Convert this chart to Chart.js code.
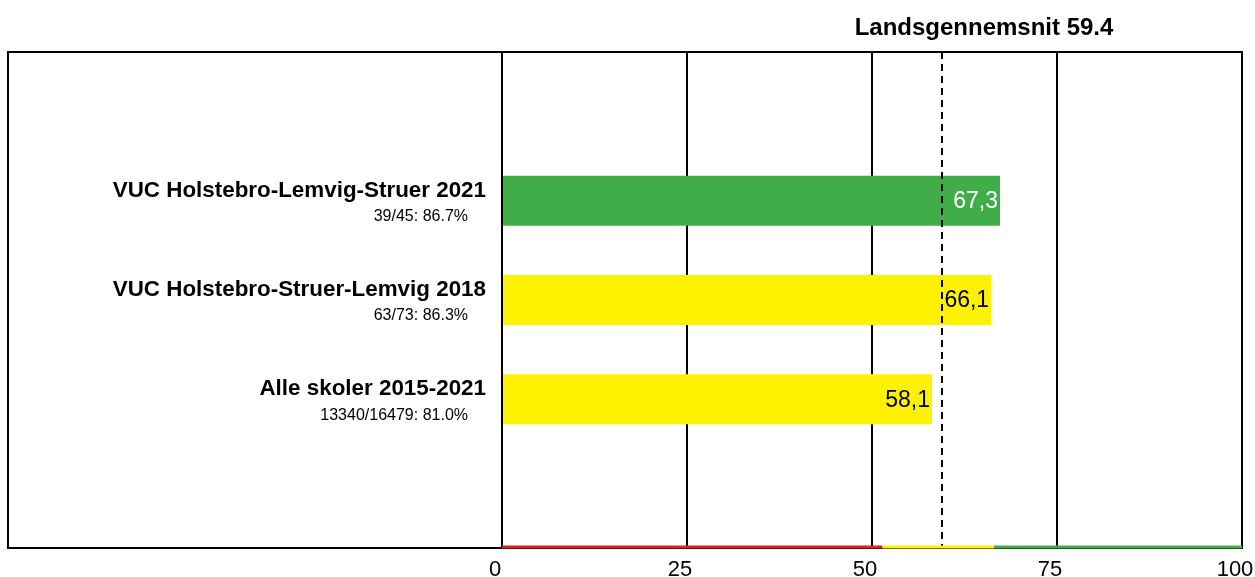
<!DOCTYPE html>
<html>
<head>
<meta charset="utf-8">
<script src="https://cdn.jsdelivr.net/npm/chart.js@4"></script>
<style>
  body { margin: 0; background: #fff; }
  #wrap { width: 1255px; height: 577px; }
</style>
</head>
<body>
<div id="wrap"><canvas id="chart" width="1255" height="577"></canvas></div>
<script>
// data
const categories = ["", "VUC Holstebro-Lemvig-Struer 2021", "VUC Holstebro-Struer-Lemvig 2018", "Alle skoler 2015-2021", ""];
const subLabels = ["", "39/45: 86.7%", "63/73: 86.3%", "13340/16479: 81.0%", ""];
const values = [null, 67.3, 66.1, 58.1, null];
const valueText = ["", "67,3", "66,1", "58,1", ""];
const barColors = ["#fff", "#41ad49", "#fff200", "#fff200", "#fff"];
const labelColors = ["#000", "#fff", "#000", "#000", "#000"];
const xTicks = [0, 25, 50, 75, 100];
const average = 59.4;
const bands = [[0, 51.4, "#d9232a"], [51.4, 66.5, "#fff200"], [66.5, 100, "#41ad49"]];

const FONT = "Liberation Sans, Arial, sans-serif";

const extras = {
    id: "extras",
    afterDatasetsDraw(chart) {
        const ctx = chart.ctx;
        const xs = chart.scales.x, ys = chart.scales.y;
        const area = chart.chartArea;
        ctx.save();

        // value labels at the bar ends
        ctx.font = "23px " + FONT;
        ctx.textAlign = "right";
        ctx.textBaseline = "middle";
        values.forEach((v, i) => {
            if (v === null) return;
            ctx.fillStyle = labelColors[i];
            ctx.fillText(valueText[i], xs.getPixelForValue(v) - 2, ys.getPixelForValue(i) + 1);
        });

        // dashed national average
        const ax = Math.round(xs.getPixelForValue(average));
        ctx.strokeStyle = "#000";
        ctx.lineWidth = 2;
        ctx.setLineDash([7, 5]);
        ctx.beginPath();
        ctx.moveTo(ax, area.top);
        ctx.lineTo(ax, area.bottom);
        ctx.stroke();
        ctx.setLineDash([]);

        // frame
        ctx.strokeRect(8, area.top, area.right - 8, area.bottom - area.top);

        // colour bands along the bottom
        ctx.lineWidth = 3;
        bands.forEach(b => {
            ctx.strokeStyle = b[2];
            ctx.beginPath();
            ctx.moveTo(xs.getPixelForValue(b[0]), area.bottom - 1);
            ctx.lineTo(xs.getPixelForValue(b[1]), area.bottom - 1);
            ctx.stroke();
        });

        // category labels on the left
        ctx.fillStyle = "#000";
        ctx.textAlign = "right";
        ctx.textBaseline = "middle";
        categories.forEach((c, i) => {
            if (!c) return;
            const y = ys.getPixelForValue(i);
            ctx.font = "bold 22.4px " + FONT;
            ctx.fillText(c, 486, y - 10);
            ctx.font = "16px " + FONT;
            ctx.fillText(subLabels[i], 468, y + 16);
        });

        // title above
        ctx.font = "bold 24px " + FONT;
        ctx.textAlign = "center";
        ctx.fillText("Landsgennemsnit " + average, 984, 28);
        ctx.restore();
    }
};

new Chart(document.getElementById("chart"), {
    type: "bar",
    data: {
        labels: categories,
        datasets: [{
            data: values,
            backgroundColor: barColors,
            categoryPercentage: 1,
            barPercentage: 0.504
        }]
    },
    options: {
        indexAxis: "y",
        responsive: false,
        animation: false,
        layout: { padding: { left: 8, right: 13, top: 52, bottom: 0 } },
        plugins: { legend: { display: false }, tooltip: { enabled: false } },
        scales: {
            x: {
                min: 0,
                max: 100,
                afterBuildTicks: s => { s.ticks = xTicks.map(v => ({ value: v })); },
                afterFit: s => { s.height = 29; s.paddingLeft = 0; s.paddingRight = 0; },
                border: { display: true, color: "#000", width: 2 },
                grid: { color: "#000", lineWidth: 2, drawTicks: false },
                ticks: { color: "#000", font: { family: FONT, size: 22 }, padding: 9, labelOffset: -7 }
            },
            y: {
                afterFit: s => { s.width = 494; },
                border: { display: true, color: "#000", width: 2 },
                grid: { display: false },
                ticks: { display: false }
            }
        }
    },
    plugins: [extras]
});
</script>
</body>
</html>
